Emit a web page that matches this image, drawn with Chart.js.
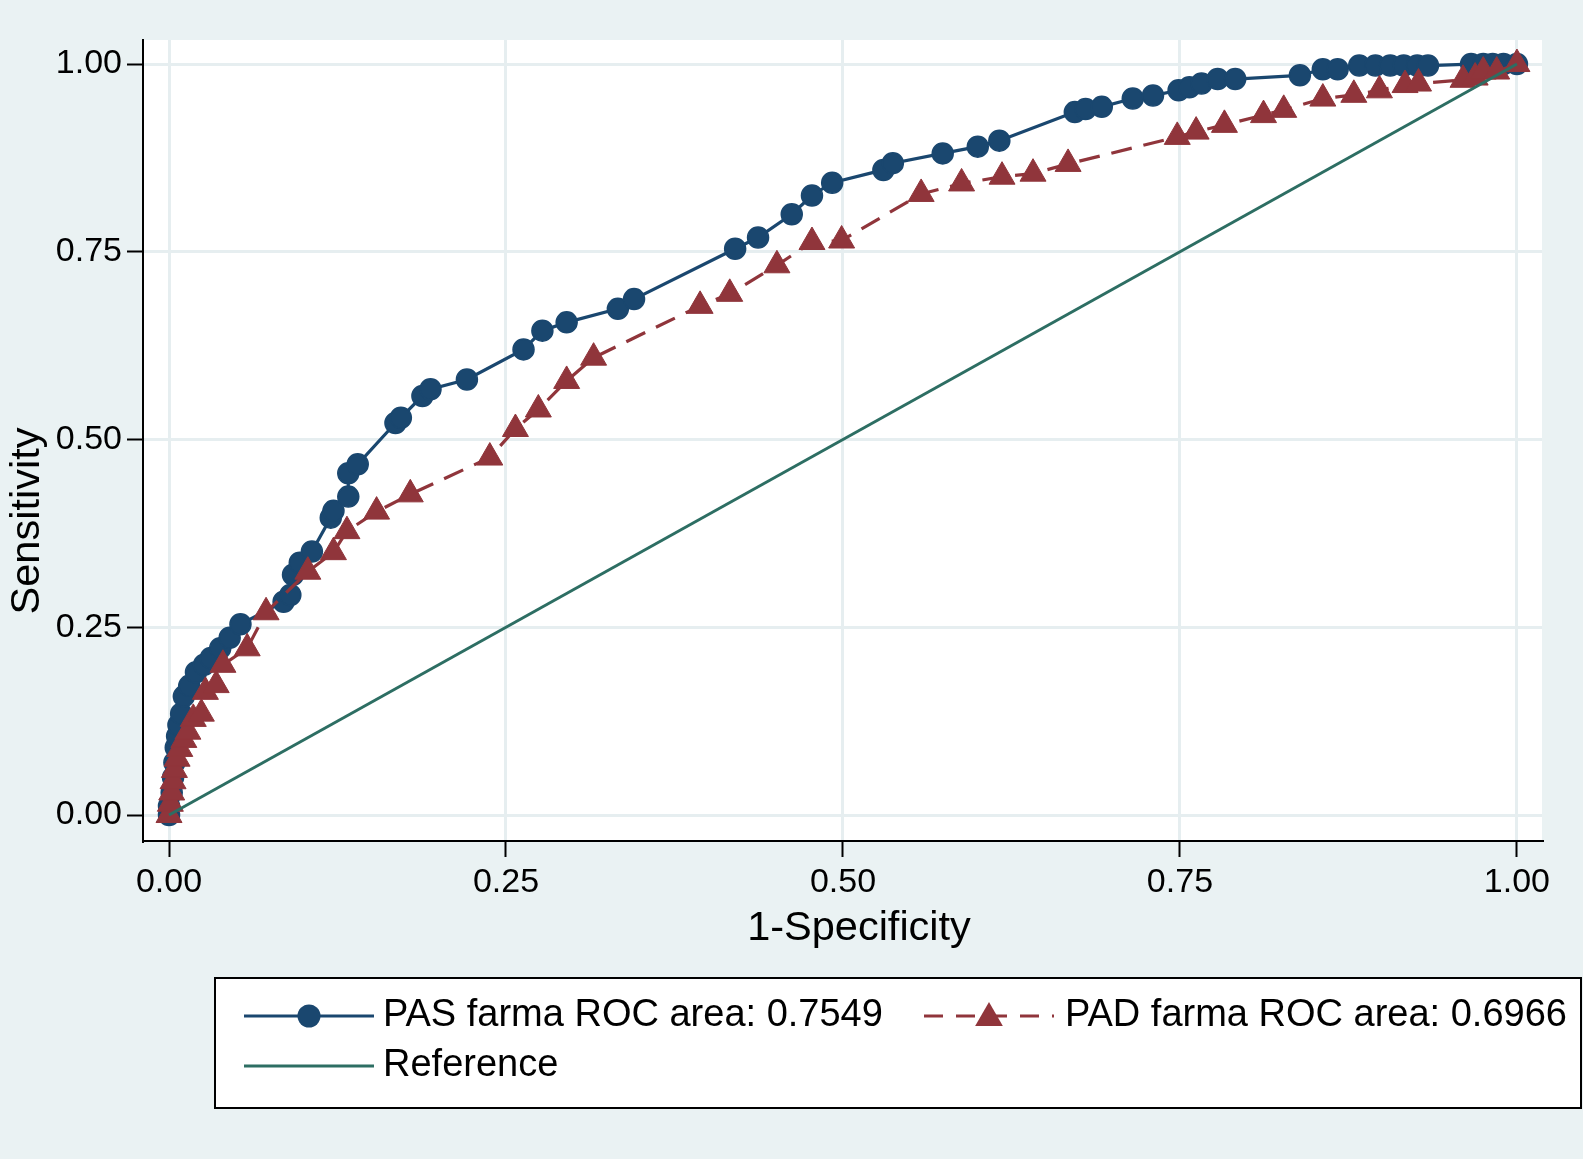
<!DOCTYPE html>
<html><head><meta charset="utf-8">
<script src="https://cdn.jsdelivr.net/npm/chart.js@4.4.0/dist/chart.umd.min.js"></script>
<style>html,body{margin:0;padding:0;background:#EAF2F3;}canvas{display:block;}</style>
</head><body>
<canvas id="c" width="1583" height="1159"></canvas>
<script>
const xTicks = [0, 0.25, 0.5, 0.75, 1];
const yTicks = [0, 0.25, 0.5, 0.75, 1];
const xTitle = '1-Specificity';
const yTitle = 'Sensitivity';
const seriesNames = ['PAS farma ROC area: 0.7549', 'PAD farma ROC area: 0.6966', 'Reference'];

const pasX = [0,0,0.002,0.003,0.004,0.005,0.006,0.007,0.009,0.011,0.015,0.02,0.026,0.031,0.038,0.045,0.053,0.085,0.09,0.092,0.097,0.106,0.12,0.122,0.133,0.133,0.14,0.168,0.172,0.188,0.194,0.221,0.263,0.277,0.295,0.333,0.345,0.42,0.437,0.462,0.477,0.492,0.53,0.537,0.574,0.6,0.616,0.672,0.68,0.692,0.715,0.73,0.749,0.757,0.766,0.778,0.791,0.839,0.856,0.867,0.883,0.895,0.906,0.916,0.926,0.934,0.966,0.975,0.982,0.99,1];
const pasY = [0,0.012,0.03,0.05,0.07,0.09,0.105,0.12,0.135,0.158,0.172,0.19,0.2,0.209,0.222,0.236,0.254,0.284,0.293,0.32,0.336,0.351,0.396,0.405,0.424,0.455,0.467,0.522,0.529,0.558,0.567,0.58,0.62,0.645,0.656,0.674,0.687,0.754,0.769,0.8,0.825,0.842,0.859,0.868,0.881,0.89,0.898,0.936,0.94,0.943,0.954,0.958,0.965,0.969,0.974,0.98,0.98,0.985,0.993,0.993,0.998,0.998,0.998,0.998,0.998,0.998,1,1,1,1,1];

const padX = [0,0.001,0.002,0.003,0.004,0.006,0.008,0.011,0.014,0.018,0.024,0.027,0.035,0.04,0.058,0.072,0.103,0.122,0.132,0.154,0.179,0.238,0.257,0.274,0.295,0.315,0.394,0.416,0.451,0.477,0.499,0.558,0.588,0.618,0.641,0.667,0.748,0.762,0.783,0.812,0.827,0.856,0.879,0.898,0.917,0.927,0.96,0.969,0.975,0.985,1];
const padY = [0,0.015,0.03,0.045,0.06,0.075,0.088,0.1,0.111,0.128,0.135,0.164,0.173,0.2,0.222,0.27,0.324,0.35,0.378,0.404,0.427,0.476,0.514,0.54,0.578,0.609,0.678,0.694,0.732,0.763,0.765,0.827,0.841,0.85,0.854,0.867,0.903,0.91,0.919,0.932,0.939,0.954,0.959,0.965,0.972,0.974,0.979,0.982,0.99,0.99,1];

const refX = [0, 1];
const refY = [0, 1];

const NAVY = '#1A476F', MAROON = '#90353B', TEAL = '#2D6E63';
const BG = '#EAF2F3', GRID = '#E6EEF0';
const FONT = '"Liberation Sans", Arial, Helvetica, sans-serif';
const pts = (xs, ys) => xs.map((x, i) => ({x: x, y: ys[i]}));

const bgPlugin = {
  id: 'bg',
  beforeDraw(chart) {
    const {ctx, chartArea: a} = chart;
    ctx.save();
    ctx.fillStyle = BG;
    ctx.fillRect(0, 0, chart.width, chart.height);
    ctx.fillStyle = '#ffffff';
    ctx.fillRect(a.left, a.top, a.right - a.left, a.bottom - a.top);
    ctx.restore();
  }
};

function drawMarker(ctx, style, x, y, r, color) {
  ctx.save();
  ctx.fillStyle = color;
  ctx.beginPath();
  if (style === 'circle') {
    ctx.arc(x, y, r, 0, Math.PI * 2);
  } else if (style === 'triangle') {
    ctx.moveTo(x, y - r);
    ctx.lineTo(x + r * Math.sin(2 * Math.PI / 3), y - r * Math.cos(2 * Math.PI / 3));
    ctx.lineTo(x + r * Math.sin(4 * Math.PI / 3), y - r * Math.cos(4 * Math.PI / 3));
    ctx.closePath();
  }
  ctx.fill();
  ctx.restore();
}

const textPlugin = {
  id: 'stataText',
  afterDraw(chart) {
    const ctx = chart.ctx;
    ctx.save();
    ctx.fillStyle = '#000';
    ctx.font = '41.5px ' + FONT;
    ctx.textAlign = 'center';
    ctx.textBaseline = 'middle';
    ctx.fillText(xTitle, 859, 929);
    ctx.save();
    ctx.translate(28, 521);
    ctx.rotate(-Math.PI / 2);
    ctx.fillText(yTitle, 0, 0);
    ctx.restore();

    // legend box
    ctx.fillStyle = '#ffffff';
    ctx.fillRect(215, 978, 1366, 130);
    ctx.lineWidth = 2;
    ctx.strokeStyle = '#000';
    ctx.strokeRect(215, 978, 1366, 130);

    const items = [{ds: 0, x: 244, y: 1016, tx: 139}, {ds: 1, x: 924, y: 1016, tx: 141}, {ds: 2, x: 244, y: 1066, tx: 139}];
    items.forEach(it => {
      const d = chart.data.datasets[it.ds];
      ctx.save();
      ctx.strokeStyle = d.borderColor;
      ctx.lineWidth = 3;
      if (d.borderDash) { ctx.setLineDash([19, 13]); ctx.lineDashOffset = 0; }
      ctx.beginPath();
      ctx.moveTo(it.x, it.y);
      ctx.lineTo(it.x + 130, it.y);
      ctx.stroke();
      ctx.restore();
      if (d.pointRadius > 0) {
        drawMarker(ctx, d.pointStyle, it.x + 65, it.y + (d.pointStyle === 'triangle' ? 2 : 0), d.pointRadius + 1, d.backgroundColor);
      }
      ctx.fillStyle = '#000';
      ctx.font = '38px ' + FONT;
      ctx.textAlign = 'left';
      ctx.textBaseline = 'middle';
      ctx.fillText(d.label, it.x + it.tx, it.y);
    });
    ctx.restore();
  }
};

const tickCfg = (arr) => function(scale) { scale.ticks = arr.map(v => ({value: v})); };

new Chart(document.getElementById('c'), {
  type: 'scatter',
  data: {
    datasets: [
      {
        label: seriesNames[0], data: pts(pasX, pasY), showLine: true,
        borderColor: NAVY, backgroundColor: NAVY, borderWidth: 3.2,
        pointStyle: 'circle', pointRadius: 10.5, pointBorderWidth: 1.5,
        pointBackgroundColor: NAVY, pointBorderColor: NAVY, order: 2
      },
      {
        label: seriesNames[1], data: pts(padX, padY), showLine: true,
        borderColor: MAROON, backgroundColor: MAROON, borderWidth: 3.2, borderDash: [21, 12],
        pointStyle: 'triangle', pointRadius: 15, pointBorderWidth: 1,
        pointBackgroundColor: MAROON, pointBorderColor: MAROON, order: 1
      },
      {
        label: seriesNames[2], data: pts(refX, refY), showLine: true,
        borderColor: TEAL, backgroundColor: TEAL, borderWidth: 3,
        pointRadius: 0, order: 0
      }
    ]
  },
  options: {
    responsive: false,
    animation: false,
    devicePixelRatio: 1,
    layout: {padding: {left: 0, top: 40, right: 41, bottom: 258}},
    plugins: {legend: {display: false}, tooltip: {enabled: false}},
    elements: {line: {tension: 0}},
    scales: {
      x: {
        type: 'linear', min: -0.0193, max: 1.0186,
        afterBuildTicks: tickCfg(xTicks),
        afterFit(scale) { scale.height = 60; },
        grid: {color: GRID, lineWidth: 3, tickLength: 16, tickColor: '#000', tickWidth: 2, drawTicks: true},
        border: {display: true, color: '#000', width: 2},
        ticks: {color: '#000', padding: 5, maxRotation: 0, autoSkip: false,
          font: {family: FONT, size: 34}, callback: v => Number(v).toFixed(2)}
      },
      y: {
        type: 'linear', min: -0.0346, max: 1.032,
        afterBuildTicks: tickCfg(yTicks),
        afterFit(scale) { scale.width = 143; },
        grid: {color: GRID, lineWidth: 3, tickLength: 16, tickColor: '#000', tickWidth: 2, drawTicks: true},
        border: {display: true, color: '#000', width: 2},
        ticks: {color: '#000', padding: 5, autoSkip: false,
          font: {family: FONT, size: 34}, callback: v => Number(v).toFixed(2)}
      }
    }
  },
  plugins: [bgPlugin, textPlugin]
});
</script>
</body></html>
